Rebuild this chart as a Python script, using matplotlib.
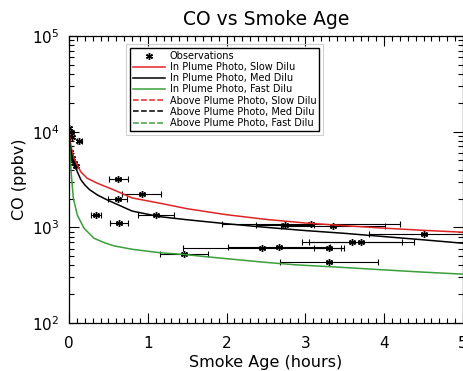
import numpy as np
import matplotlib
matplotlib.use('Agg')
import matplotlib.pyplot as plt
from matplotlib.patches import Rectangle
from matplotlib.ticker import LogLocator, MultipleLocator, NullFormatter

# observations (smoke age in hours, CO in ppbv, age uncertainty)
obs_age = [0.006, 0.025, 0.044, 0.13, 0.013, 0.038, 0.063, 0.089,
           0.626, 0.922, 0.618, 0.339, 1.104, 0.635,
           2.74, 3.07, 3.35, 4.51, 3.587, 3.71,
           2.449, 2.665, 3.30, 1.463, 3.30]
obs_co = [10900, 10000, 8870, 8000, 6130, 5270, 4680, 4385,
          3207, 2250, 1965, 1358, 1358, 1104,
          1059, 1077, 1026, 848, 710, 699,
          605, 624, 614, 527, 435]
obs_err = [0, 0, 0, 0.03, 0, 0, 0, 0,
           0.117, 0.25, 0.12, 0.064, 0.226, 0.12,
           0.37, 1.13, 0.66, 0.70, 0.635, 0.67,
           1.0, 0.65, 0.19, 0.305, 0.62]

# model curves
slow_t = [0, 0.02, 0.04, 0.063, 0.105, 0.148, 0.23, 0.36, 0.57, 0.8, 1.15,
          1.5, 2.0, 2.5, 3.0, 3.5, 4.0, 4.5, 5.0]
slow_co = [10000, 7500, 6200, 5270, 4490, 3820, 3260, 2890, 2460, 2030, 1790,
           1565, 1355, 1210, 1110, 1040, 980, 930, 889]

med_t = [0, 0.015, 0.042, 0.07, 0.105, 0.15, 0.2, 0.26, 0.36, 0.47, 0.57, 0.8,
         1.15, 1.5, 2.0, 2.5, 3.0, 3.5, 4.0, 4.5, 5.0]
med_co = [10000, 7000, 5270, 4500, 3820, 3150, 2780, 2480, 2180, 1960, 1800, 1480,
          1293, 1200, 1090, 1000, 925, 865, 800, 740, 682]

fast_t = [0, 0.01, 0.03, 0.055, 0.105, 0.19, 0.317, 0.45, 0.57, 0.8, 1.15,
          1.46, 2.0, 2.5, 2.89, 3.5, 4.0, 4.5, 5.0]
fast_co = [10000, 6500, 3530, 2015, 1349, 979, 769, 690, 640, 590, 543,
           520, 470, 430, 405, 380, 359, 340, 324]

plt.rcParams['font.family'] = 'DejaVu Sans'
plt.rcParams['mathtext.fontset'] = 'dejavusans'

fig = plt.figure(figsize=(4.64, 3.71), dpi=100)
ax = fig.add_axes([69 / 464, 1 - 323 / 371, 394 / 464, 287 / 371])

red = '#e02424'
green = '#3a9e3a'

ax.errorbar(obs_age, obs_co, xerr=obs_err, fmt='none', ecolor='black',
            elinewidth=0.8, capsize=2.5, capthick=0.8)
ax.plot(obs_age, obs_co, linestyle='none', marker=(6, 2, 0), markersize=5,
        color='black', markeredgewidth=1.0, label='Observations')

ax.plot(slow_t, slow_co, color=red, lw=1.1, label='In Plume Photo, Slow Dilu')
ax.plot(med_t, med_co, color='black', lw=1.1, label='In Plume Photo, Med Dilu')
ax.plot(fast_t, fast_co, color=green, lw=1.1, label='In Plume Photo, Fast Dilu')
ax.plot([], [], color=red, lw=1.1, ls='--', label='Above Plume Photo, Slow Dilu')
ax.plot([], [], color='black', lw=1.1, ls='--', label='Above Plume Photo, Med Dilu')
ax.plot([], [], color=green, lw=1.1, ls='--', label='Above Plume Photo, Fast Dilu')

ax.set_yscale('log')
ax.set_xlim(0, 5)
ax.set_ylim(100, 100000)

ax.xaxis.set_major_locator(MultipleLocator(1))
ax.xaxis.set_minor_locator(MultipleLocator(0.1))
ax.yaxis.set_major_locator(LogLocator(base=10))
ax.yaxis.set_minor_locator(LogLocator(base=10, subs=np.arange(2, 10)))
ax.yaxis.set_minor_formatter(NullFormatter())
ax.tick_params(which='both', direction='in', top=True, right=True, width=0.8)
ax.tick_params(which='major', length=7, labelsize=11)
ax.tick_params(axis='x', which='major', pad=9)
ax.tick_params(axis='y', which='major', pad=7)
ax.tick_params(which='minor', length=3.5)
for s in ax.spines.values():
    s.set_linewidth(0.9)

ax.set_title('CO vs Smoke Age', fontsize=13.5, pad=8)
ax.set_xlabel('Smoke Age (hours)', fontsize=11.5, labelpad=3)
ax.set_ylabel('CO (ppbv)', fontsize=11.5, labelpad=3)

leg = ax.legend(loc='upper left', bbox_to_anchor=(0.143, 0.975), fontsize=7,
                frameon=True, fancybox=False, framealpha=1, edgecolor='black',
                handlelength=3.3, handletextpad=0.45, labelspacing=0.12,
                borderpad=0.3, numpoints=1)
leg.get_frame().set_linewidth(1.0)

# light outer frame around the legend box
fig.canvas.draw()
bb = leg.get_window_extent().transformed(fig.transFigure.inverted())
px, py = 4 / 464, 4 / 371
fig.patches.append(Rectangle((bb.x0 - px, bb.y0 - py), bb.width + 2 * px,
                             bb.height + 2 * py, transform=fig.transFigure,
                             fill=False, edgecolor='#d0d0d0', lw=0.8, zorder=5))

plt.savefig('out.png', dpi=100)
